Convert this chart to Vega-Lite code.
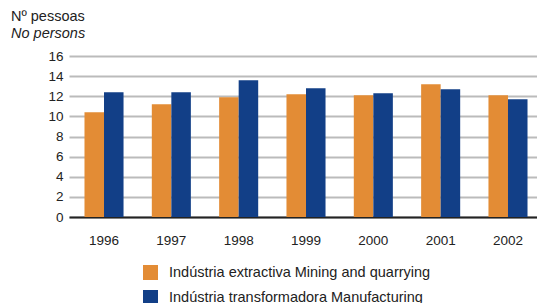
{
  "$schema": "https://vega.github.io/schema/vega-lite/v6.json",
  "autosize": {"type": "none"},
  "width": 474,
  "height": 161,
  "padding": {"left": 69, "top": 56, "right": 0, "bottom": 86},
  "background": "white",
  "title": {
    "text": "Nº pessoas",
    "subtitle": "No persons",
    "anchor": "start",
    "frame": "group",
    "dx": -58,
    "offset": 8,
    "font": "Liberation Sans",
    "fontSize": 14.5,
    "fontWeight": "normal",
    "color": "#222",
    "subtitleFont": "Liberation Sans",
    "subtitleFontSize": 14.5,
    "subtitleFontStyle": "italic",
    "subtitleColor": "#222",
    "subtitlePadding": 2
  },
  "data": {
    "values": [
      {"year": "1996", "series": "Indústria extractiva Mining and quarrying", "value": 10.4},
      {"year": "1996", "series": "Indústria transformadora Manufacturing", "value": 12.4},
      {"year": "1997", "series": "Indústria extractiva Mining and quarrying", "value": 11.2},
      {"year": "1997", "series": "Indústria transformadora Manufacturing", "value": 12.4},
      {"year": "1998", "series": "Indústria extractiva Mining and quarrying", "value": 11.9},
      {"year": "1998", "series": "Indústria transformadora Manufacturing", "value": 13.6},
      {"year": "1999", "series": "Indústria extractiva Mining and quarrying", "value": 12.2},
      {"year": "1999", "series": "Indústria transformadora Manufacturing", "value": 12.8},
      {"year": "2000", "series": "Indústria extractiva Mining and quarrying", "value": 12.1},
      {"year": "2000", "series": "Indústria transformadora Manufacturing", "value": 12.3},
      {"year": "2001", "series": "Indústria extractiva Mining and quarrying", "value": 13.2},
      {"year": "2001", "series": "Indústria transformadora Manufacturing", "value": 12.7},
      {"year": "2002", "series": "Indústria extractiva Mining and quarrying", "value": 12.1},
      {"year": "2002", "series": "Indústria transformadora Manufacturing", "value": 11.7}
    ]
  },
  "mark": {"type": "bar"},
  "encoding": {
    "x": {
      "field": "year",
      "type": "nominal",
      "scale": {"paddingInner": 0.42, "paddingOuter": 0.23},
      "axis": {
        "title": null,
        "labelAngle": 0,
        "ticks": false,
        "labelPadding": 16,
        "labelFont": "Liberation Sans",
        "labelFontSize": 13.5,
        "labelColor": "#222",
        "domainColor": "#222",
        "domainWidth": 2
      }
    },
    "xOffset": {"field": "series", "type": "nominal", "scale": {"paddingInner": 0, "paddingOuter": 0}},
    "y": {
      "field": "value",
      "type": "quantitative",
      "scale": {"domain": [0, 16], "nice": false},
      "axis": {
        "title": null,
        "values": [0, 2, 4, 6, 8, 10, 12, 14, 16],
        "ticks": false,
        "domain": false,
        "labelPadding": 6,
        "labelFont": "Liberation Sans",
        "labelFontSize": 13.5,
        "labelColor": "#222",
        "gridColor": "#bbbbbb",
        "gridWidth": 2,
        "gridOpacity": 1
      }
    },
    "color": {
      "field": "series",
      "type": "nominal",
      "scale": {"range": ["#E38C35", "#123F87"]},
      "legend": {
        "title": null,
        "orient": "none",
        "legendX": 74,
        "legendY": 209,
        "symbolType": "square",
        "symbolSize": 225,
        "symbolStrokeWidth": 0,
        "symbolOpacity": 1,
        "rowPadding": 9,
        "labelOffset": 11,
        "labelFont": "Liberation Sans",
        "labelFontSize": 14.5,
        "labelColor": "#222",
        "labelLimit": 400
      }
    }
  },
  "config": {"view": {"stroke": null}}
}
